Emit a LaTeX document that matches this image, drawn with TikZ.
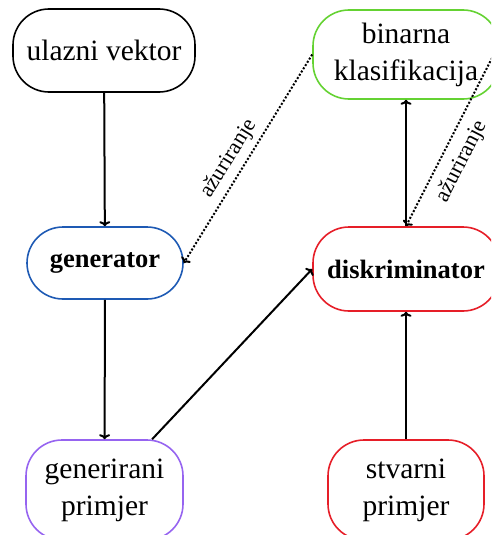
\documentclass[tikz,border=0pt]{standalone}
\usepackage{fontspec}
\setmainfont{Liberation Serif}
\usetikzlibrary{arrows.meta}
\definecolor{gblue}{RGB}{30,90,180}
\definecolor{ggreen}{RGB}{100,210,50}
\definecolor{gred}{RGB}{230,30,40}
\definecolor{gpurple}{RGB}{150,100,240}
\begin{document}
\begin{tikzpicture}[x=1pt,y=-1pt,
  box/.style={draw, line width=1.6pt, rounded corners=36pt, inner sep=0pt, align=center, font=\fontsize{29.5}{37}\selectfont},
  bbox/.style={box, font=\fontsize{26.5}{32}\selectfont\bfseries},
  arr/.style={line width=2pt, -{To[length=5pt,width=11pt]}},
  upd/.style={line width=2pt, dash pattern=on 2pt off 1.8pt, -{To[length=5pt,width=11pt]}},
  lab/.style={font=\fontsize{22}{26}\selectfont, sloped, inner sep=5pt}]
\useasboundingbox (0,0) rectangle (491,535);
\clip (0,0) rectangle (491,535);
\node[box, minimum width=182pt, minimum height=83pt] (in) at (104,50.5) {ulazni vektor};
\node[bbox, draw=gblue, minimum width=156pt, minimum height=72pt] (gen) at (105,263) {generator};
\node[box, draw=gpurple, minimum width=157pt, minimum height=100pt] (fake) at (104.5,490) {generirani\\primjer};
\node[box, draw=ggreen, minimum width=186pt, minimum height=89pt] (bin) at (406,54.5) {binarna\\klasifikacija};
\node[bbox, draw=gred, minimum width=186pt, minimum height=84pt] (disk) at (406,269) {diskriminator};
\node[box, draw=gred, minimum width=156pt, minimum height=100pt] (real) at (406,490) {stvarni\\primjer};
\draw[arr] (in) -- (gen);
\draw[arr] (gen) -- (fake);
\draw[arr] (fake) -- (disk.west);
\draw[arr] (real) -- (disk);
\draw[arr] (disk) -- (bin);
\draw[upd] (bin.west) -- (gen.east) node[lab, pos=0.54, above] {ažuriranje};
\draw[upd] ([xshift=-6pt]bin.east) -- (disk.north) node[lab, pos=0.57, below, inner sep=9pt] {ažuriranje};
\end{tikzpicture}
\end{document}
